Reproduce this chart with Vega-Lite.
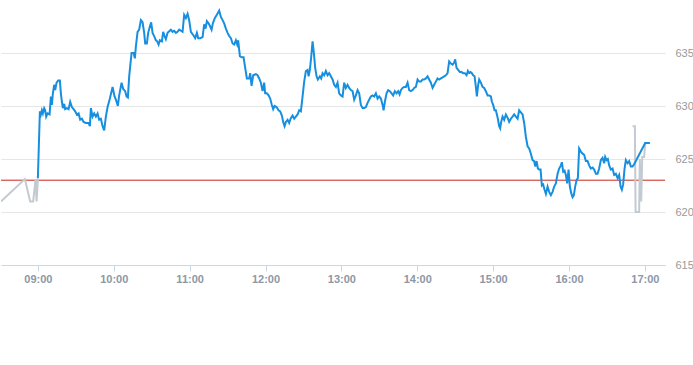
{
  "$schema": "https://vega.github.io/schema/vega-lite/v6.json",
  "width": 664,
  "height": 265,
  "padding": 0,
  "background": "white",
  "config": {"view": {"stroke": null}},
  "datasets": {
    "main": [
      {"t":"2024-05-10T09:00:00","p":623.2},{"t":"2024-05-10T09:01:35","p":629.5},{"t":"2024-05-10T09:02:22","p":629.2},{"t":"2024-05-10T09:03:10","p":629.6},{"t":"2024-05-10T09:03:57","p":629.3},{"t":"2024-05-10T09:04:59","p":629.8},{"t":"2024-05-10T09:05:46","p":629.6},{"t":"2024-05-10T09:06:34","p":629.0},{"t":"2024-05-10T09:07:40","p":629.3},{"t":"2024-05-10T09:09:15","p":629.2},{"t":"2024-05-10T09:10:17","p":630.9},{"t":"2024-05-10T09:11:04","p":630.1},{"t":"2024-05-10T09:11:52","p":631.2},{"t":"2024-05-10T09:12:53","p":632.0},{"t":"2024-05-10T09:13:41","p":631.5},{"t":"2024-05-10T09:14:47","p":632.2},{"t":"2024-05-10T09:16:03","p":632.4},{"t":"2024-05-10T09:17:24","p":632.4},{"t":"2024-05-10T09:18:11","p":631.2},{"t":"2024-05-10T09:18:59","p":630.4},{"t":"2024-05-10T09:19:46","p":629.8},{"t":"2024-05-10T09:20:48","p":630.2},{"t":"2024-05-10T09:21:35","p":629.7},{"t":"2024-05-10T09:22:56","p":629.8},{"t":"2024-05-10T09:24:17","p":629.7},{"t":"2024-05-10T09:25:33","p":630.4},{"t":"2024-05-10T09:26:53","p":629.9},{"t":"2024-05-10T09:28:14","p":629.7},{"t":"2024-05-10T09:29:30","p":629.5},{"t":"2024-05-10T09:30:50","p":629.2},{"t":"2024-05-10T09:32:11","p":629.3},{"t":"2024-05-10T09:33:27","p":628.7},{"t":"2024-05-10T09:34:48","p":628.8},{"t":"2024-05-10T09:36:08","p":628.5},{"t":"2024-05-10T09:37:58","p":628.4},{"t":"2024-05-10T09:40:05","p":628.4},{"t":"2024-05-10T09:41:07","p":628.1},{"t":"2024-05-10T09:41:55","p":629.8},{"t":"2024-05-10T09:43:15","p":629.0},{"t":"2024-05-10T09:44:31","p":629.3},{"t":"2024-05-10T09:45:52","p":629.0},{"t":"2024-05-10T09:47:12","p":629.3},{"t":"2024-05-10T09:48:28","p":628.7},{"t":"2024-05-10T09:49:49","p":628.8},{"t":"2024-05-10T09:51:10","p":628.1},{"t":"2024-05-10T09:52:26","p":627.7},{"t":"2024-05-10T09:53:46","p":629.0},{"t":"2024-05-10T09:55:07","p":629.9},{"t":"2024-05-10T09:56:56","p":630.7},{"t":"2024-05-10T09:59:04","p":631.8},
      {"t":"2024-05-10T10:00:39","p":630.9},{"t":"2024-05-10T10:01:41","p":630.6},{"t":"2024-05-10T10:03:16","p":630.0},{"t":"2024-05-10T10:04:17","p":631.0},{"t":"2024-05-10T10:06:11","p":632.2},{"t":"2024-05-10T10:07:27","p":631.6},{"t":"2024-05-10T10:09:02","p":631.4},{"t":"2024-05-10T10:10:08","p":630.9},{"t":"2024-05-10T10:11:10","p":630.8},{"t":"2024-05-10T10:12:12","p":632.8},{"t":"2024-05-10T10:14:05","p":635.0},{"t":"2024-05-10T10:15:41","p":635.0},{"t":"2024-05-10T10:16:42","p":634.5},{"t":"2024-05-10T10:17:29","p":635.6},{"t":"2024-05-10T10:18:50","p":637.0},{"t":"2024-05-10T10:20:06","p":637.2},{"t":"2024-05-10T10:21:27","p":638.1},{"t":"2024-05-10T10:22:47","p":637.9},{"t":"2024-05-10T10:24:04","p":636.9},{"t":"2024-05-10T10:24:51","p":635.9},{"t":"2024-05-10T10:26:11","p":635.9},{"t":"2024-05-10T10:27:13","p":636.9},{"t":"2024-05-10T10:28:34","p":637.5},{"t":"2024-05-10T10:29:35","p":637.9},{"t":"2024-05-10T10:30:42","p":636.9},{"t":"2024-05-10T10:31:58","p":636.6},{"t":"2024-05-10T10:33:19","p":636.2},{"t":"2024-05-10T10:34:20","p":636.1},{"t":"2024-05-10T10:35:27","p":635.8},{"t":"2024-05-10T10:36:28","p":636.2},{"t":"2024-05-10T10:38:03","p":636.1},{"t":"2024-05-10T10:39:05","p":637.0},{"t":"2024-05-10T10:40:11","p":636.6},{"t":"2024-05-10T10:41:13","p":636.3},{"t":"2024-05-10T10:42:34","p":636.9},{"t":"2024-05-10T10:45:10","p":637.2},{"t":"2024-05-10T10:46:31","p":637.0},{"t":"2024-05-10T10:47:47","p":637.1},{"t":"2024-05-10T10:49:07","p":636.9},{"t":"2024-05-10T10:50:28","p":637.0},{"t":"2024-05-10T10:51:44","p":637.2},{"t":"2024-05-10T10:53:05","p":637.1},{"t":"2024-05-10T10:54:25","p":637.0},{"t":"2024-05-10T10:55:41","p":638.6},{"t":"2024-05-10T10:57:02","p":638.3},{"t":"2024-05-10T10:58:23","p":638.7},{"t":"2024-05-10T10:59:38","p":638.1},
      {"t":"2024-05-10T11:00:59","p":637.0},{"t":"2024-05-10T11:02:49","p":636.7},{"t":"2024-05-10T11:04:23","p":636.4},{"t":"2024-05-10T11:05:44","p":636.9},{"t":"2024-05-10T11:06:46","p":636.4},{"t":"2024-05-10T11:08:20","p":636.4},{"t":"2024-05-10T11:10:14","p":636.5},{"t":"2024-05-10T11:11:30","p":637.7},{"t":"2024-05-10T11:12:37","p":637.3},{"t":"2024-05-10T11:13:38","p":638.0},{"t":"2024-05-10T11:14:59","p":637.8},{"t":"2024-05-10T11:16:15","p":637.5},{"t":"2024-05-10T11:17:21","p":637.2},{"t":"2024-05-10T11:18:23","p":637.8},{"t":"2024-05-10T11:19:58","p":638.3},{"t":"2024-05-10T11:21:33","p":638.6},{"t":"2024-05-10T11:23:22","p":639.0},{"t":"2024-05-10T11:24:43","p":638.4},{"t":"2024-05-10T11:26:04","p":638.1},{"t":"2024-05-10T11:27:19","p":637.8},{"t":"2024-05-10T11:28:40","p":637.3},{"t":"2024-05-10T11:30:01","p":636.9},{"t":"2024-05-10T11:31:16","p":636.6},{"t":"2024-05-10T11:32:37","p":636.4},{"t":"2024-05-10T11:33:58","p":635.9},{"t":"2024-05-10T11:35:14","p":635.8},{"t":"2024-05-10T11:36:34","p":636.2},{"t":"2024-05-10T11:37:36","p":635.8},{"t":"2024-05-10T11:38:23","p":636.2},{"t":"2024-05-10T11:39:44","p":634.7},{"t":"2024-05-10T11:41:05","p":634.6},{"t":"2024-05-10T11:42:40","p":634.6},{"t":"2024-05-10T11:43:56","p":633.6},{"t":"2024-05-10T11:45:16","p":632.6},{"t":"2024-05-10T11:47:05","p":632.6},{"t":"2024-05-10T11:47:53","p":633.1},{"t":"2024-05-10T11:48:59","p":631.9},{"t":"2024-05-10T11:50:15","p":632.9},{"t":"2024-05-10T11:52:23","p":633.0},{"t":"2024-05-10T11:53:44","p":632.9},{"t":"2024-05-10T11:55:00","p":632.6},{"t":"2024-05-10T11:56:20","p":632.2},{"t":"2024-05-10T11:57:41","p":631.4},{"t":"2024-05-10T11:58:57","p":632.2},{"t":"2024-05-10T11:59:44","p":631.2},
      {"t":"2024-05-10T12:01:05","p":631.2},{"t":"2024-05-10T12:02:26","p":631.0},{"t":"2024-05-10T12:03:42","p":630.7},{"t":"2024-05-10T12:05:02","p":630.1},{"t":"2024-05-10T12:06:04","p":629.7},{"t":"2024-05-10T12:07:10","p":630.0},{"t":"2024-05-10T12:08:45","p":629.9},{"t":"2024-05-10T12:10:20","p":629.6},{"t":"2024-05-10T12:11:36","p":629.5},{"t":"2024-05-10T12:12:57","p":629.1},{"t":"2024-05-10T12:13:59","p":628.5},{"t":"2024-05-10T12:15:05","p":628.1},{"t":"2024-05-10T12:16:07","p":628.5},{"t":"2024-05-10T12:17:27","p":628.7},{"t":"2024-05-10T12:18:43","p":628.4},{"t":"2024-05-10T12:19:50","p":628.8},{"t":"2024-05-10T12:21:25","p":629.1},{"t":"2024-05-10T12:22:41","p":628.8},{"t":"2024-05-10T12:24:01","p":629.0},{"t":"2024-05-10T12:25:22","p":629.2},{"t":"2024-05-10T12:26:38","p":629.6},{"t":"2024-05-10T12:27:58","p":629.5},{"t":"2024-05-10T12:29:19","p":630.9},{"t":"2024-05-10T12:30:35","p":632.3},{"t":"2024-05-10T12:31:56","p":633.3},{"t":"2024-05-10T12:33:16","p":633.4},{"t":"2024-05-10T12:34:04","p":632.8},{"t":"2024-05-10T12:35:05","p":633.4},{"t":"2024-05-10T12:36:07","p":634.6},{"t":"2024-05-10T12:37:13","p":636.1},{"t":"2024-05-10T12:38:15","p":635.0},{"t":"2024-05-10T12:39:17","p":633.6},{"t":"2024-05-10T12:40:23","p":632.8},{"t":"2024-05-10T12:41:25","p":632.5},{"t":"2024-05-10T12:43:00","p":632.8},{"t":"2024-05-10T12:44:01","p":632.6},{"t":"2024-05-10T12:45:08","p":633.1},{"t":"2024-05-10T12:46:23","p":632.9},{"t":"2024-05-10T12:47:44","p":633.3},{"t":"2024-05-10T12:49:05","p":632.9},{"t":"2024-05-10T12:50:21","p":633.1},{"t":"2024-05-10T12:51:41","p":632.8},{"t":"2024-05-10T12:53:02","p":632.5},{"t":"2024-05-10T12:54:18","p":632.0},{"t":"2024-05-10T12:55:39","p":631.8},{"t":"2024-05-10T12:56:59","p":632.2},{"t":"2024-05-10T12:58:15","p":631.2},{"t":"2024-05-10T12:59:36","p":631.0},
      {"t":"2024-05-10T13:00:57","p":630.9},{"t":"2024-05-10T13:02:13","p":632.2},{"t":"2024-05-10T13:03:33","p":631.7},{"t":"2024-05-10T13:04:54","p":632.0},{"t":"2024-05-10T13:06:10","p":631.7},{"t":"2024-05-10T13:07:31","p":631.5},{"t":"2024-05-10T13:08:51","p":631.4},{"t":"2024-05-10T13:10:07","p":630.6},{"t":"2024-05-10T13:11:28","p":631.0},{"t":"2024-05-10T13:12:49","p":631.5},{"t":"2024-05-10T13:14:05","p":631.2},{"t":"2024-05-10T13:15:25","p":630.1},{"t":"2024-05-10T13:16:46","p":629.8},{"t":"2024-05-10T13:18:02","p":629.8},{"t":"2024-05-10T13:19:22","p":629.9},{"t":"2024-05-10T13:20:43","p":630.3},{"t":"2024-05-10T13:21:59","p":630.6},{"t":"2024-05-10T13:23:19","p":630.9},{"t":"2024-05-10T13:24:40","p":631.0},{"t":"2024-05-10T13:25:56","p":630.9},{"t":"2024-05-10T13:27:17","p":631.2},{"t":"2024-05-10T13:28:37","p":630.7},{"t":"2024-05-10T13:29:53","p":630.9},{"t":"2024-05-10T13:31:14","p":630.7},{"t":"2024-05-10T13:32:35","p":630.1},{"t":"2024-05-10T13:33:22","p":629.6},{"t":"2024-05-10T13:34:24","p":630.4},{"t":"2024-05-10T13:35:44","p":631.2},{"t":"2024-05-10T13:37:00","p":631.5},{"t":"2024-05-10T13:38:21","p":631.4},{"t":"2024-05-10T13:39:41","p":631.2},{"t":"2024-05-10T13:40:58","p":631.0},{"t":"2024-05-10T13:42:18","p":631.4},{"t":"2024-05-10T13:43:39","p":631.2},{"t":"2024-05-10T13:44:55","p":631.4},{"t":"2024-05-10T13:46:01","p":631.1},{"t":"2024-05-10T13:47:03","p":631.5},{"t":"2024-05-10T13:48:23","p":631.7},{"t":"2024-05-10T13:49:40","p":631.8},{"t":"2024-05-10T13:51:00","p":631.8},{"t":"2024-05-10T13:52:21","p":632.2},{"t":"2024-05-10T13:53:37","p":631.5},{"t":"2024-05-10T13:54:57","p":631.4},{"t":"2024-05-10T13:56:18","p":631.5},{"t":"2024-05-10T13:57:34","p":631.7},{"t":"2024-05-10T13:58:55","p":631.8},
      {"t":"2024-05-10T14:00:15","p":632.5},{"t":"2024-05-10T14:01:31","p":632.3},{"t":"2024-05-10T14:02:52","p":632.3},{"t":"2024-05-10T14:04:13","p":632.5},{"t":"2024-05-10T14:05:28","p":632.5},{"t":"2024-05-10T14:06:49","p":632.6},{"t":"2024-05-10T14:08:10","p":632.8},{"t":"2024-05-10T14:09:26","p":632.5},{"t":"2024-05-10T14:10:46","p":632.2},{"t":"2024-05-10T14:12:07","p":631.7},{"t":"2024-05-10T14:13:23","p":632.0},{"t":"2024-05-10T14:14:43","p":632.3},{"t":"2024-05-10T14:16:04","p":632.6},{"t":"2024-05-10T14:17:20","p":632.5},{"t":"2024-05-10T14:18:41","p":632.6},{"t":"2024-05-10T14:20:01","p":632.7},{"t":"2024-05-10T14:21:17","p":632.8},{"t":"2024-05-10T14:22:38","p":632.9},{"t":"2024-05-10T14:23:59","p":633.1},{"t":"2024-05-10T14:25:14","p":634.2},{"t":"2024-05-10T14:26:35","p":634.0},{"t":"2024-05-10T14:27:56","p":633.9},{"t":"2024-05-10T14:29:12","p":634.1},{"t":"2024-05-10T14:29:59","p":634.4},{"t":"2024-05-10T14:31:05","p":633.6},{"t":"2024-05-10T14:32:22","p":633.4},{"t":"2024-05-10T14:33:42","p":633.2},{"t":"2024-05-10T14:35:03","p":633.2},{"t":"2024-05-10T14:36:19","p":633.1},{"t":"2024-05-10T14:37:40","p":633.1},{"t":"2024-05-10T14:39:00","p":632.9},{"t":"2024-05-10T14:40:02","p":633.3},{"t":"2024-05-10T14:41:04","p":633.1},{"t":"2024-05-10T14:42:10","p":633.2},{"t":"2024-05-10T14:43:12","p":633.1},{"t":"2024-05-10T14:44:13","p":632.9},{"t":"2024-05-10T14:45:20","p":632.8},{"t":"2024-05-10T14:46:21","p":631.8},{"t":"2024-05-10T14:47:09","p":630.9},{"t":"2024-05-10T14:48:11","p":632.0},{"t":"2024-05-10T14:48:58","p":632.5},{"t":"2024-05-10T14:50:19","p":632.2},{"t":"2024-05-10T14:51:39","p":631.8},{"t":"2024-05-10T14:52:55","p":631.7},{"t":"2024-05-10T14:54:16","p":631.4},{"t":"2024-05-10T14:55:37","p":631.0},{"t":"2024-05-10T14:56:52","p":631.0},{"t":"2024-05-10T14:58:13","p":630.9},{"t":"2024-05-10T14:59:01","p":630.4},
      {"t":"2024-05-10T15:00:02","p":630.1},{"t":"2024-05-10T15:01:08","p":629.6},{"t":"2024-05-10T15:02:10","p":629.6},{"t":"2024-05-10T15:02:58","p":629.2},{"t":"2024-05-10T15:03:45","p":628.8},{"t":"2024-05-10T15:04:47","p":628.1},{"t":"2024-05-10T15:05:34","p":627.9},{"t":"2024-05-10T15:06:22","p":628.5},{"t":"2024-05-10T15:07:28","p":629.0},{"t":"2024-05-10T15:08:44","p":628.7},{"t":"2024-05-10T15:10:05","p":629.2},{"t":"2024-05-10T15:11:25","p":628.9},{"t":"2024-05-10T15:12:41","p":628.5},{"t":"2024-05-10T15:14:02","p":628.8},{"t":"2024-05-10T15:15:22","p":629.0},{"t":"2024-05-10T15:16:38","p":629.2},{"t":"2024-05-10T15:17:59","p":629.0},{"t":"2024-05-10T15:19:20","p":628.8},{"t":"2024-05-10T15:20:35","p":629.6},{"t":"2024-05-10T15:21:56","p":629.4},{"t":"2024-05-10T15:23:17","p":629.2},{"t":"2024-05-10T15:24:33","p":628.4},{"t":"2024-05-10T15:25:53","p":627.1},{"t":"2024-05-10T15:27:14","p":626.2},{"t":"2024-05-10T15:28:30","p":626.0},{"t":"2024-05-10T15:29:51","p":625.5},{"t":"2024-05-10T15:31:11","p":624.9},{"t":"2024-05-10T15:32:27","p":624.8},{"t":"2024-05-10T15:33:15","p":624.3},{"t":"2024-05-10T15:34:21","p":624.8},{"t":"2024-05-10T15:35:23","p":624.1},{"t":"2024-05-10T15:36:25","p":624.0},{"t":"2024-05-10T15:37:31","p":624.0},{"t":"2024-05-10T15:38:32","p":622.5},{"t":"2024-05-10T15:39:34","p":622.6},{"t":"2024-05-10T15:40:41","p":622.1},{"t":"2024-05-10T15:41:43","p":621.7},{"t":"2024-05-10T15:43:03","p":622.4},{"t":"2024-05-10T15:44:19","p":621.9},{"t":"2024-05-10T15:45:40","p":621.6},{"t":"2024-05-10T15:47:01","p":621.9},{"t":"2024-05-10T15:48:16","p":622.4},{"t":"2024-05-10T15:49:37","p":622.7},{"t":"2024-05-10T15:50:58","p":623.6},{"t":"2024-05-10T15:52:13","p":624.1},{"t":"2024-05-10T15:53:34","p":624.4},{"t":"2024-05-10T15:54:22","p":624.7},{"t":"2024-05-10T15:55:23","p":623.8},{"t":"2024-05-10T15:56:30","p":623.9},{"t":"2024-05-10T15:57:31","p":623.5},{"t":"2024-05-10T15:58:33","p":622.7},{"t":"2024-05-10T15:59:39","p":624.0},
      {"t":"2024-05-10T16:00:41","p":622.4},{"t":"2024-05-10T16:01:43","p":621.8},{"t":"2024-05-10T16:02:49","p":621.4},{"t":"2024-05-10T16:03:51","p":621.6},{"t":"2024-05-10T16:04:53","p":622.4},{"t":"2024-05-10T16:05:59","p":623.0},{"t":"2024-05-10T16:07:01","p":623.2},{"t":"2024-05-10T16:08:02","p":626.0},{"t":"2024-05-10T16:09:23","p":625.7},{"t":"2024-05-10T16:10:44","p":625.5},{"t":"2024-05-10T16:11:59","p":625.4},{"t":"2024-05-10T16:13:20","p":624.8},{"t":"2024-05-10T16:14:41","p":624.8},{"t":"2024-05-10T16:15:57","p":624.4},{"t":"2024-05-10T16:17:17","p":624.1},{"t":"2024-05-10T16:18:38","p":624.2},{"t":"2024-05-10T16:19:54","p":624.0},{"t":"2024-05-10T16:21:15","p":623.6},{"t":"2024-05-10T16:22:35","p":623.6},{"t":"2024-05-10T16:23:51","p":624.1},{"t":"2024-05-10T16:25:12","p":624.9},{"t":"2024-05-10T16:26:33","p":625.1},{"t":"2024-05-10T16:27:49","p":624.6},{"t":"2024-05-10T16:28:36","p":625.2},{"t":"2024-05-10T16:29:42","p":624.9},{"t":"2024-05-10T16:30:44","p":625.0},{"t":"2024-05-10T16:31:46","p":624.4},{"t":"2024-05-10T16:33:06","p":624.0},{"t":"2024-05-10T16:34:27","p":624.1},{"t":"2024-05-10T16:35:43","p":623.5},{"t":"2024-05-10T16:37:04","p":623.6},{"t":"2024-05-10T16:38:25","p":623.2},{"t":"2024-05-10T16:39:40","p":623.5},{"t":"2024-05-10T16:40:47","p":622.4},{"t":"2024-05-10T16:41:48","p":622.1},{"t":"2024-05-10T16:42:50","p":622.6},{"t":"2024-05-10T16:43:56","p":624.1},{"t":"2024-05-10T16:44:58","p":624.9},{"t":"2024-05-10T16:46:19","p":624.6},{"t":"2024-05-10T16:47:35","p":624.8},{"t":"2024-05-10T16:48:55","p":624.3},{"t":"2024-05-10T16:50:16","p":624.3},{"t":"2024-05-10T16:51:32","p":624.5},{"t":"2024-05-10T17:00:14","p":626.5},{"t":"2024-05-10T17:03:57","p":626.5}
    ],
    "ext": [
      {"t":"2024-05-10T08:30:45","p":621.0,"seg":"pre"},{"t":"2024-05-10T08:49:43","p":623.1,"seg":"pre"},{"t":"2024-05-10T08:53:55","p":621.0,"seg":"pre"},{"t":"2024-05-10T08:56:17","p":621.0,"seg":"pre"},{"t":"2024-05-10T08:58:10","p":623.1,"seg":"pre"},{"t":"2024-05-10T08:58:58","p":621.0,"seg":"pre"},{"t":"2024-05-10T09:00:00","p":623.2,"seg":"pre"},
      {"t":"2024-05-10T16:50:16","p":628.1,"seg":"post"},{"t":"2024-05-10T16:52:05","p":628.1,"seg":"post"},{"t":"2024-05-10T16:52:40","p":620.0,"seg":"post"},{"t":"2024-05-10T16:55:28","p":620.0,"seg":"post"},{"t":"2024-05-10T16:56:00","p":625.0,"seg":"post"},{"t":"2024-05-10T16:57:06","p":621.0,"seg":"post"},{"t":"2024-05-10T16:57:54","p":625.2,"seg":"post"},{"t":"2024-05-10T16:59:26","p":625.2,"seg":"post"},{"t":"2024-05-10T17:00:14","p":626.5,"seg":"post"},{"t":"2024-05-10T17:03:57","p":626.5,"seg":"post"}
    ],
    "ref": [{"r": 623.0}]
  },
  "layer": [
    {
      "data": {"name": "ref"},
      "mark": {"type": "rule", "color": "#c8261f", "strokeWidth": 1},
      "encoding": {
        "y": {
          "field": "r", "type": "quantitative", "title": null,
          "scale": {"domain": [615, 640], "nice": false, "zero": false},
          "axis": {"orient": "right", "values": [615, 620, 625, 630, 635], "grid": true, "gridColor": "#e6e6e6", "domain": false, "ticks": false, "labelPadding": 10, "labelFont": "Liberation Sans", "labelFontSize": 11, "labelColor": "#999999"}
        }
      }
    },
    {
      "data": {"name": "ext"},
      "mark": {"type": "line", "color": "#c3cad2", "strokeWidth": 2, "clip": true},
      "encoding": {
        "x": {
          "field": "t", "type": "temporal", "title": null,
          "scale": {"domain": {"expr": "[datetime(2024,4,10,8,30,50), datetime(2024,4,10,17,15,55)]"}},
          "axis": {"format": "%H:%M", "tickCount": 9, "grid": false, "domainColor": "#ccd6eb", "tickColor": "#ccd6eb", "tickSize": 6, "labelPadding": 2, "labelFont": "Liberation Sans", "labelFontSize": 11, "labelFontWeight": "bold", "labelColor": "#8e97a6"}
        },
        "y": {"field": "p", "type": "quantitative"},
        "detail": {"field": "seg", "type": "nominal"}
      }
    },
    {
      "data": {"name": "main"},
      "mark": {"type": "line", "color": "#168fe0", "strokeWidth": 2, "clip": true},
      "encoding": {
        "x": {"field": "t", "type": "temporal"},
        "y": {"field": "p", "type": "quantitative"}
      }
    }
  ]
}
